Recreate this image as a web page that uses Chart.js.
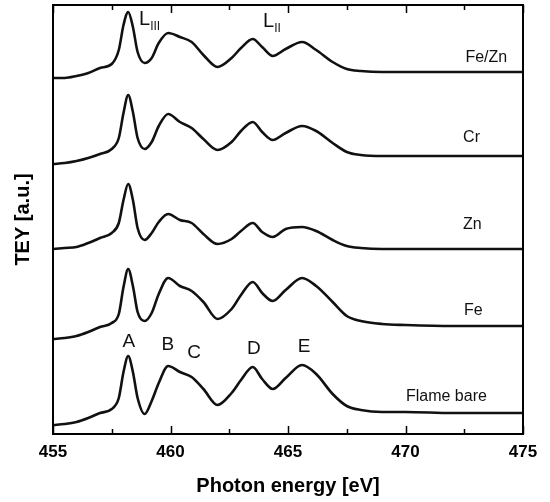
<!DOCTYPE html>
<html>
<head>
<meta charset="utf-8">
<script src="https://cdn.jsdelivr.net/npm/chart.js@4.4.1/dist/chart.umd.min.js"></script>
<style>
  html, body { margin: 0; padding: 0; background: #fff; }
  canvas { display: block; }
</style>
</head>
<body>
<canvas id="c" width="550" height="502"></canvas>
<script>
// Photon energy grid (eV)
const energy = [455,455.5,456,456.5,457,457.5,457.8,458.0,458.2,458.4,458.6,458.9,459.2,459.5,459.9,460.4,460.9,461.4,462.0,462.6,463.0,463.5,463.9,464.35,464.9,465.6,466.2,466.9,467.5,468.1,469,470,472,475];
// TEY (a.u., stacked with vertical offsets)
const feZn  = [356,356,358,361,366,370,384,409,422,407,382,371,376,391,401,397,392,379,367,376,386,395,387,378,385,392,384,372,365,363,362,362,362,362];
const cr    = [270,271,273,276,280,285,296,321,339,322,296,285,292,308,320,312,306,295,284,292,303,312,302,294,301,308,303,291,282,279,278,278,278,278];
const zn    = [185,186,187,191,196,201,211,234,250,234,206,194,201,212,220,214,211,200,190,195,203,211,202,197,205,207,203,194,188,186,185,185,185,185];
const fe    = [95,96,98,102,107,111,120,147,165,148,122,113,121,140,156,148,143,132,115,125,139,152,141,133,144,156,148,132,118,113,110,109,108,108];
const flameBare = [9,10,12,16,21,25,36,62,78,62,36,20,33,51,68,62,57,45,29,41,54,67,55,45,56,69,60,40,28,24,22,22,21,21];

const xTicks = [455,460,465,470,475];
const curveNames  = ['Fe/Zn','Cr','Zn','Fe','Flame bare'];
const curveLabelE = [472.55,472.45,472.45,472.49,470.02];
const curveLabelY = [376,296,209,123,37];
const peakNames  = ['A','B','C','D','E'];
const peakLabelE = [458.23,459.89,461.0,463.55,465.68];
const peakLabelY = [92,89,81,85,87];
const edgeNames  = ['III','II'];
const edgeLabelE = [458.66,463.94];
const edgeLabelY = [415,413];

const FONT = "'Liberation Sans', Arial, Helvetica, sans-serif";

function series(vals) { return energy.map((e, i) => ({ x: e, y: vals[i] })); }

const frame = {
  id: 'frame',
  afterDatasetsDraw(chart) {
    const { ctx, chartArea: a, scales } = chart;
    const xs = scales.x, ys = scales.y;
    ctx.save();
    ctx.strokeStyle = '#000';
    ctx.lineWidth = 2;
    ctx.strokeRect(a.left, a.top, a.right - a.left, a.bottom - a.top);
    ctx.lineWidth = 1.5;
    for (let v = 455; v <= 475; v += 2.5) {
      const px = Math.round(xs.getPixelForValue(v)) + 0.5;
      const len = (v % 5 === 0) ? 8 : 5;
      ctx.beginPath();
      ctx.moveTo(px, a.bottom); ctx.lineTo(px, a.bottom - len);
      ctx.moveTo(px, a.top); ctx.lineTo(px, a.top + len);
      ctx.stroke();
    }
    ctx.fillStyle = '#111';
    ctx.textBaseline = 'middle';
    ctx.textAlign = 'left';
    ctx.font = '16px ' + FONT;
    curveNames.forEach((t, i) => {
      ctx.fillText(t, xs.getPixelForValue(curveLabelE[i]), ys.getPixelForValue(curveLabelY[i]));
    });
    ctx.textAlign = 'center';
    ctx.font = '19px ' + FONT;
    peakNames.forEach((t, i) => {
      ctx.fillText(t, xs.getPixelForValue(peakLabelE[i]), ys.getPixelForValue(peakLabelY[i]));
    });
    ctx.textAlign = 'left';
    edgeNames.forEach((t, i) => {
      const px = xs.getPixelForValue(edgeLabelE[i]);
      const py = ys.getPixelForValue(edgeLabelY[i]);
      ctx.font = '20px ' + FONT;
      ctx.fillText('L', px, py);
      const w = ctx.measureText('L').width;
      ctx.font = '12px ' + FONT;
      ctx.fillText(t, px + w, py + 8);
    });
    ctx.restore();
  }
};

const ds = (label, vals) => ({
  label, data: series(vals),
  borderColor: '#111', borderWidth: 2.6,
  pointRadius: 0, fill: false,
  cubicInterpolationMode: 'monotone'
});

new Chart(document.getElementById('c'), {
  type: 'line',
  data: {
    datasets: [
      ds('Fe/Zn', feZn), ds('Cr', cr), ds('Zn', zn), ds('Fe', fe), ds('Flame bare', flameBare)
    ]
  },
  options: {
    responsive: false,
    devicePixelRatio: 1,
    animation: false,
    layout: { padding: { top: 5, right: 27, bottom: 0, left: 0 } },
    plugins: { legend: { display: false }, tooltip: { enabled: false } },
    scales: {
      x: {
        type: 'linear', min: 455, max: 475,
        afterBuildTicks(s) { s.ticks = xTicks.map(v => ({ value: v })); },
        grid: { display: false, drawTicks: false },
        border: { display: false },
        ticks: { color: '#000', padding: 8, maxRotation: 0, autoSkip: false,
                 font: { family: FONT, size: 17, weight: 'bold' } },
        title: { display: true, text: 'Photon energy [eV]', color: '#000',
                 font: { family: FONT, size: 20, weight: 'bold' }, padding: { top: 0, bottom: 4 } },
        afterFit(s) { s.height = 68; }
      },
      y: {
        min: 0, max: 429,
        grid: { display: false, drawTicks: false },
        border: { display: false },
        ticks: { display: false },
        title: { display: true, text: 'TEY [a.u.]', color: '#000',
                 font: { family: FONT, size: 20, weight: 'bold' }, padding: { top: 11, bottom: 0 } },
        afterFit(s) { s.width = 53; }
      }
    }
  },
  plugins: [frame]
});
</script>
</body>
</html>
